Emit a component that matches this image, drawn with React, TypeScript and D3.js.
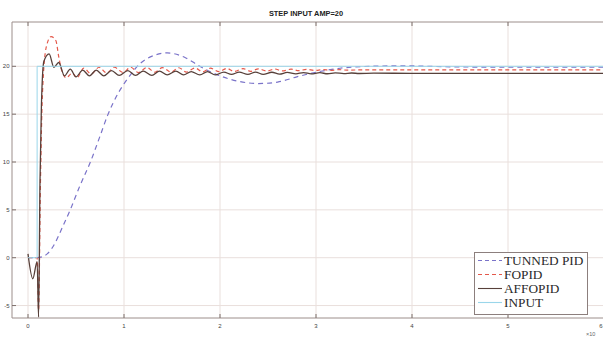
import React from "react";
import * as d3 from "d3";

// Step response: time [s] vs output, amplitude 20
const xTicks = [0, 1, 2, 3, 4, 5, 6];
const yTicks = [-5, 0, 5, 10, 15, 20];

const tunnedPid: [number, number][] = [
  [0, 0], [0.1, 0], [0.2, 0.4], [0.28, 1.5], [0.35, 3], [0.44, 5], [0.54, 7.5],
  [0.65, 10], [0.75, 12.7], [0.83, 14.9], [0.94, 17.2], [1.03, 18.6], [1.17, 20.3],
  [1.33, 21.2], [1.45, 21.4], [1.64, 20.9], [1.79, 20.0], [2.0, 19.0], [2.21, 18.4],
  [2.4, 18.2], [2.6, 18.35], [2.8, 18.9], [3.01, 19.4], [3.25, 19.8], [3.56, 20.0],
  [3.9, 20.05], [4.4, 19.95], [5.0, 19.9], [6.0, 19.9],
];

const fopid: [number, number][] = [
  [0, 0], [0.095, 0], [0.11, -5.5], [0.13, 8], [0.15, 17], [0.19, 22], [0.24, 23.1],
  [0.29, 22.7], [0.32, 21], [0.35, 19.6], [0.4, 18.8], [0.46, 19.3], [0.51, 18.8],
  [0.58, 19.8], [0.66, 19.2], [0.74, 19.9], [0.82, 19.3], [0.9, 19.9], [0.99, 19.35],
  [1.07, 19.9], [1.15, 19.35], [1.24, 19.88], [1.32, 19.38], [1.4, 19.86], [1.49, 19.4],
  [1.57, 19.85], [1.65, 19.4], [1.74, 19.82], [1.82, 19.42], [1.9, 19.8], [1.99, 19.44],
  [2.07, 19.78], [2.15, 19.46], [2.24, 19.76], [2.32, 19.48], [2.4, 19.74], [2.49, 19.5],
  [2.57, 19.72], [2.65, 19.52], [2.74, 19.7], [2.82, 19.54], [2.9, 19.68], [2.99, 19.56],
  [3.07, 19.66], [3.15, 19.58], [3.24, 19.65], [3.32, 19.6], [3.5, 19.63], [4.0, 19.62],
  [5.0, 19.62], [6.0, 19.62],
];

const affopid: [number, number][] = [
  [0, 0.4], [0.05, -2.2], [0.095, -0.4], [0.11, -6.2], [0.125, 8], [0.14, 16],
  [0.165, 20.5], [0.22, 21.3], [0.27, 19.9], [0.32, 20.4], [0.38, 19.0], [0.44, 19.7],
  [0.5, 18.9], [0.57, 19.6], [0.64, 19.0], [0.71, 19.6], [0.79, 19.0], [0.87, 19.55],
  [0.95, 19.05], [1.04, 19.55], [1.12, 19.05], [1.2, 19.5], [1.29, 19.05], [1.37, 19.5],
  [1.45, 19.1], [1.54, 19.5], [1.62, 19.1], [1.7, 19.45], [1.79, 19.1], [1.87, 19.45],
  [1.95, 19.1], [2.04, 19.4], [2.12, 19.15], [2.2, 19.4], [2.29, 19.15], [2.37, 19.4],
  [2.45, 19.15], [2.54, 19.38], [2.62, 19.18], [2.7, 19.36], [2.79, 19.2], [2.87, 19.35],
  [2.95, 19.2], [3.04, 19.33], [3.12, 19.22], [3.2, 19.32], [3.29, 19.24], [3.37, 19.3],
  [3.45, 19.25], [3.6, 19.28], [4.0, 19.27], [5.0, 19.27], [6.0, 19.27],
];

const input: [number, number][] = [
  [0, 0], [0.095, 0], [0.095, 20], [6.0, 20],
];

const legendItems = [
  { label: "TUNNED PID", color: "#7a73c9", dash: "4,3" },
  { label: "FOPID", color: "#e4584a", dash: "4,3" },
  { label: "AFFOPID", color: "#57403a", dash: "" },
  { label: "INPUT", color: "#9ad6ea", dash: "" },
];

const W = 603;
const H = 338;
const left = 12;
const right = 604;
const top = 22;
const bottom = 318;

export default function App() {
  const x = d3.scaleLinear().domain([-0.1667, 6]).range([left, right]);
  const y = d3.scaleLinear().domain([-6.3, 24.63]).range([bottom, top]);

  const smooth = d3
    .line<[number, number]>()
    .x((d) => x(d[0]))
    .y((d) => y(d[1]))
    .curve(d3.curveMonotoneX);
  const straight = d3
    .line<[number, number]>()
    .x((d) => x(d[0]))
    .y((d) => y(d[1]));

  const gridColor = "#e9dfdc";
  const axisColor = "#9c8e8b";
  const tickFont = "Liberation Sans, Arial, sans-serif";

  return (
    <svg
      width={W}
      height={H}
      style={{ position: "absolute", left: 0, top: 0, background: "#fff" }}
    >
      <defs>
        <clipPath id="plot">
          <rect x={left} y={top} width={right - left} height={bottom - top} />
        </clipPath>
      </defs>

      <text
        x={306}
        y={15.5}
        textAnchor="middle"
        fontFamily={tickFont}
        fontWeight="bold"
        fontSize={7.4}
        fill="#222"
      >
        STEP INPUT AMP=20
      </text>

      {/* grid */}
      {xTicks.map((t) => (
        <line key={"gx" + t} x1={x(t)} x2={x(t)} y1={top} y2={bottom} stroke={gridColor} strokeWidth={1} />
      ))}
      {yTicks.map((t) => (
        <line key={"gy" + t} x1={left} x2={right} y1={y(t)} y2={y(t)} stroke={gridColor} strokeWidth={1} />
      ))}

      {/* axes box */}
      <line x1={left} x2={right} y1={top} y2={top} stroke={axisColor} strokeWidth={1} />
      <line x1={left} x2={right} y1={bottom} y2={bottom} stroke={axisColor} strokeWidth={1} />
      <line x1={left} x2={left} y1={top} y2={bottom} stroke={axisColor} strokeWidth={1} />

      {/* ticks */}
      {xTicks.map((t, i) => {
        const last = i === xTicks.length - 1;
        return (
          <g key={"tx" + t}>
            <line x1={x(t)} x2={x(t)} y1={bottom} y2={bottom - 4} stroke="#7d706d" />
            <line x1={x(t)} x2={x(t)} y1={top} y2={top + 4} stroke="#7d706d" />
            <text
              x={last ? W - 0.5 : x(t)}
              y={bottom + 10}
              textAnchor={last ? "end" : "middle"}
              fontFamily={tickFont}
              fontSize={6}
              fill="#444"
            >
              {t}
            </text>
          </g>
        );
      })}
      {yTicks.map((t) => (
        <g key={"ty" + t}>
          <line x1={left} x2={left + 4} y1={y(t)} y2={y(t)} stroke="#7d706d" />
          <text x={left - 2.5} y={y(t) + 2} textAnchor="end" fontFamily={tickFont} fontSize={6} fill="#444">
            {t}
          </text>
        </g>
      ))}
      <text x={586} y={336} fontFamily={tickFont} fontSize={5.5} fill="#666">
        ×10
      </text>

      {/* series */}
      <g clipPath="url(#plot)" fill="none">
        <path d={smooth(tunnedPid) ?? ""} stroke={legendItems[0].color} strokeWidth={1.2} strokeDasharray="5,4" />
        <path d={smooth(fopid) ?? ""} stroke={legendItems[1].color} strokeWidth={1.2} strokeDasharray="4,3" />
        <path d={smooth(affopid) ?? ""} stroke={legendItems[2].color} strokeWidth={1.3} />
        <path d={straight(input) ?? ""} stroke={legendItems[3].color} strokeWidth={1} />
      </g>

      {/* legend */}
      <g>
        <rect x={474.5} y={252.5} width={113} height={62} fill="#fff" stroke="#8c7f7d" strokeWidth={1} />
        {legendItems.map((it, i) => {
          const by = 265 + i * 14;
          return (
            <g key={it.label}>
              <line
                x1={478}
                x2={502}
                y1={by - 4.5}
                y2={by - 4.5}
                stroke={it.color}
                strokeWidth={1.1}
                strokeDasharray={it.dash || undefined}
              />
              <text
                x={504}
                y={by}
                fontFamily="Liberation Serif, Times New Roman, serif"
                fontSize={13.3}
                fill="#2a2a2a"
              >
                {it.label}
              </text>
            </g>
          );
        })}
      </g>
    </svg>
  );
}
